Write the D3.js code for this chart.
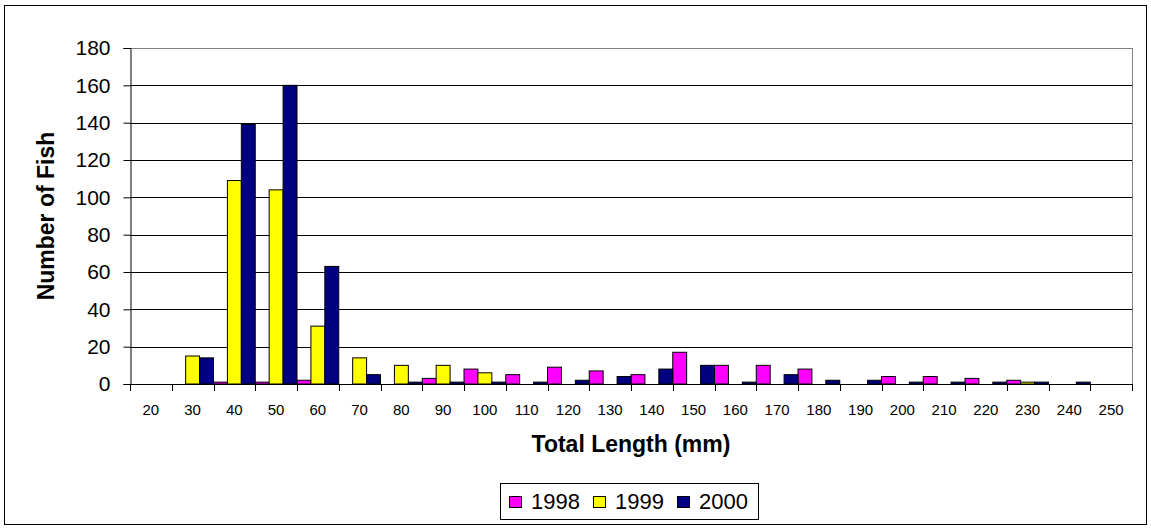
<!DOCTYPE html>
<html>
<head>
<meta charset="utf-8">
<script src="https://cdn.jsdelivr.net/npm/d3@7"></script>
<style>
  html, body { margin: 0; padding: 0; background: #fff; }
  svg { display: block; font-family: "Liberation Sans", Arial, sans-serif; }
</style>
</head>
<body>
<svg id="chart" width="1151" height="529"></svg>
<script>
// Length classes (mm) and fish counts per survey year
const lengthClasses = [20, 30, 40, 50, 60, 70, 80, 90, 100, 110, 120, 130, 140, 150, 160, 170, 180, 190, 200, 210, 220, 230, 240, 250];
const years = ["1998", "1999", "2000"];
const counts1998 = [0, 0, 1, 1, 2, 0, 0, 3, 8, 5, 9, 7, 5, 17, 10, 10, 8, 0, 4, 4, 3, 2, 0, 0];
const counts1999 = [0, 15, 109, 104, 31, 14, 10, 10, 6, 0, 0, 0, 0, 0, 0, 0, 0, 0, 0, 0, 0, 1, 0, 0];
const counts2000 = [0, 14, 139, 160, 63, 5, 1, 1, 1, 1, 2, 4, 8, 10, 1, 5, 2, 2, 1, 1, 1, 1, 1, 0];
const yearColors = ["#FF00FF", "#FFFF00", "#000080"];
const yTicks = [0, 20, 40, 60, 80, 100, 120, 140, 160, 180];

const seriesValues = [counts1998, counts1999, counts2000];

const svg = d3.select("#chart");
const W = 1151, H = 529;
const plot = { left: 130, right: 1132, top: 48, bottom: 384 };

// Outer chart frame
svg.append("rect")
  .attr("x", 4.5).attr("y", 5.5)
  .attr("width", W - 9).attr("height", H - 10)
  .attr("fill", "#fff").attr("stroke", "#000").attr("stroke-width", 1);

const x = d3.scaleBand()
  .domain(lengthClasses)
  .range([plot.left, plot.right])
  .paddingInner(0).paddingOuter(0);

const xSub = d3.scaleBand()
  .domain(years)
  .range([0, x.bandwidth()])
  .padding(0);

const y = d3.scaleLinear()
  .domain([0, 180])
  .range([plot.bottom, plot.top]);

// Horizontal gridlines
svg.append("g")
  .selectAll("line")
  .data(yTicks.filter(d => d > 0))
  .join("line")
  .attr("x1", plot.left).attr("x2", plot.right)
  .attr("y1", d => Math.round(y(d)) + 0.5).attr("y2", d => Math.round(y(d)) + 0.5)
  .attr("stroke", d => d === 180 ? "#808080" : "#000")
  .attr("stroke-width", 1);

// Right edge of the plot area
svg.append("line")
  .attr("x1", plot.right + 0.5).attr("x2", plot.right + 0.5)
  .attr("y1", plot.top).attr("y2", plot.bottom)
  .attr("stroke", "#808080").attr("stroke-width", 1);

// Bars
const groups = svg.append("g")
  .selectAll("g")
  .data(years.map((yr, i) => ({ year: yr, color: yearColors[i], values: seriesValues[i] })))
  .join("g")
  .attr("fill", d => d.color);

groups.selectAll("rect")
  .data(d => d.values.map((v, j) => ({ year: d.year, cls: lengthClasses[j], value: v })).filter(e => e.value > 0))
  .join("rect")
  .attr("x", d => x(d.cls) + xSub(d.year))
  .attr("y", d => y(d.value))
  .attr("width", xSub.bandwidth())
  .attr("height", d => y(0) - y(d.value))
  .attr("stroke", "#000")
  .attr("stroke-width", 1);

// Y axis
const yAxis = svg.append("g")
  .attr("transform", `translate(${plot.left + 0.5},0)`)
  .call(d3.axisLeft(y).tickValues(yTicks).tickSize(7).tickPadding(13).tickFormat(d3.format("d")));
yAxis.select(".domain").attr("stroke", "#000");
yAxis.selectAll(".tick line").attr("stroke", "#000");
yAxis.selectAll(".tick text")
  .attr("font-size", 21).attr("fill", "#000")
  .attr("font-family", "Liberation Sans, Arial, sans-serif");

// X axis baseline with category-boundary tick marks
svg.append("line")
  .attr("x1", plot.left).attr("x2", plot.right + 1)
  .attr("y1", plot.bottom + 0.5).attr("y2", plot.bottom + 0.5)
  .attr("stroke", "#000");

const boundaries = lengthClasses.map(c => x(c)).concat([x.range()[1]]);
svg.append("g")
  .selectAll("line")
  .data(boundaries)
  .join("line")
  .attr("x1", d => Math.round(d) + 0.5).attr("x2", d => Math.round(d) + 0.5)
  .attr("y1", plot.bottom).attr("y2", plot.bottom + 7)
  .attr("stroke", "#000");

const xAxis = svg.append("g")
  .attr("transform", `translate(0,${plot.bottom})`)
  .call(d3.axisBottom(x).tickSize(0).tickPadding(20));
xAxis.select(".domain").remove();
xAxis.selectAll(".tick text")
  .attr("font-size", 15).attr("fill", "#000")
  .attr("font-family", "Liberation Sans, Arial, sans-serif");

// Axis titles
svg.append("text")
  .attr("x", (plot.left + plot.right) / 2)
  .attr("y", 452)
  .attr("text-anchor", "middle")
  .attr("font-size", 23).attr("font-weight", "bold")
  .text("Total Length (mm)");

svg.append("text")
  .attr("transform", `translate(54,${(plot.top + plot.bottom) / 2}) rotate(-90)`)
  .attr("text-anchor", "middle")
  .attr("font-size", 23).attr("font-weight", "bold")
  .text("Number of Fish");

// Legend
const legend = svg.append("g").attr("transform", "translate(500,483)");
legend.append("rect")
  .attr("x", 0.5).attr("y", 0.5).attr("width", 258).attr("height", 36)
  .attr("fill", "#fff").attr("stroke", "#000");

const itemPitch = 84;
const items = legend.selectAll("g.item")
  .data(years)
  .join("g")
  .attr("class", "item")
  .attr("transform", (d, i) => `translate(${9 + i * itemPitch},0)`);
items.append("rect")
  .attr("x", 0.5).attr("y", 13.5).attr("width", 12).attr("height", 11)
  .attr("fill", (d, i) => yearColors[i]).attr("stroke", "#000");
items.append("text")
  .attr("x", 22).attr("y", 26)
  .attr("font-size", 22)
  .text(d => d);
</script>
</body>
</html>
